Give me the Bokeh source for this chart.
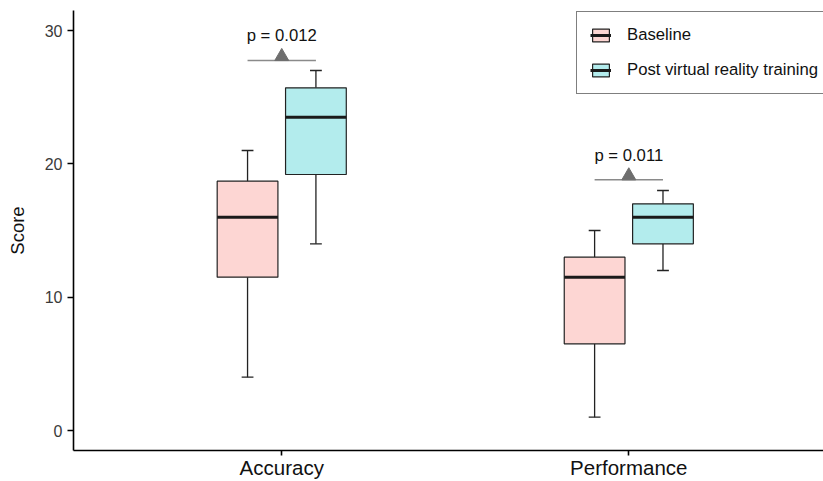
from bokeh.plotting import figure
from bokeh.models import Legend, LegendItem, FixedTicker, Range1d
from bokeh.core.properties import value
from bokeh.embed import file_html
from bokeh.resources import INLINE

# ---- data ----
categories = ["Accuracy", "Performance"]
groups = ["Baseline", "Post virtual reality training"]

baseline_low = [4.0, 1.0]
baseline_q1 = [11.5, 6.5]
baseline_med = [16.0, 11.5]
baseline_q3 = [18.7, 13.0]
baseline_high = [21.0, 15.0]

post_low = [14.0, 12.0]
post_q1 = [19.2, 14.0]
post_med = [23.5, 16.0]
post_q3 = [25.7, 17.0]
post_high = [27.0, 18.0]

p_labels = ["p = 0.012", "p = 0.011"]
p_line_y = [27.75, 18.8]
p_text_y = [29.6, 20.65]

# ---- style ----
FONT = "Liberation Sans"
DODGE = 0.0985
BOX_W = 0.175
CAP_W = 0.034
BASE_FILL = "#FDD6D3"
POST_FILL = "#B3ECED"
EDGE = "#222222"

cat_x = [i + 1 for i in range(len(categories))]
base_x = [c - DODGE for c in cat_x]
post_x = [c + DODGE for c in cat_x]

p = figure(width=823, height=481,
           x_range=Range1d(0.4, 2.561), y_range=Range1d(-1.5, 31.5),
           output_backend="svg", toolbar_location=None,
           min_border_left=73, min_border_right=0,
           min_border_top=10, min_border_bottom=30)
p.outline_line_color = None
p.grid.visible = False
p.background_fill_color = "white"


def draw_group(xs, low, q1, med, q3, high, fill):
    # whiskers
    p.segment(x0=xs, y0=q3, x1=xs, y1=high, line_color=EDGE, line_width=1.3)
    p.segment(x0=xs, y0=q1, x1=xs, y1=low, line_color=EDGE, line_width=1.3)
    # caps
    p.segment(x0=[x - CAP_W / 2 for x in xs], y0=high,
              x1=[x + CAP_W / 2 for x in xs], y1=high,
              line_color=EDGE, line_width=1.3)
    p.segment(x0=[x - CAP_W / 2 for x in xs], y0=low,
              x1=[x + CAP_W / 2 for x in xs], y1=low,
              line_color=EDGE, line_width=1.3)
    box = p.vbar(x=xs, width=BOX_W, top=q3, bottom=q1,
                 fill_color=fill, line_color=EDGE, line_width=1.2)
    med_r = p.segment(x0=[x - BOX_W / 2 for x in xs], y0=med,
                      x1=[x + BOX_W / 2 for x in xs], y1=med,
                      line_color="#1a1a1a", line_width=3)
    return box, med_r


box_b, med_b = draw_group(base_x, baseline_low, baseline_q1, baseline_med,
                          baseline_q3, baseline_high, BASE_FILL)
box_p, med_p = draw_group(post_x, post_low, post_q1, post_med,
                          post_q3, post_high, POST_FILL)

# p-value annotations
p.segment(x0=base_x, y0=p_line_y, x1=post_x, y1=p_line_y,
          line_color="#8a8a8a", line_width=1.5)
p.scatter(x=cat_x, y=[v + 0.3 for v in p_line_y], marker="triangle",
          size=14, fill_color="#6e6e6e", line_color="#6e6e6e")
p.text(x=cat_x, y=p_text_y, text=p_labels, text_font=value(FONT),
       text_font_size=value("16.7px"), text_align="center",
       text_baseline="middle", text_color="#111111")

# axes
p.xaxis.ticker = FixedTicker(ticks=cat_x)
p.xaxis.major_label_overrides = {c: name for c, name in zip(cat_x, categories)}
p.xaxis.major_label_text_font = FONT
p.xaxis.major_label_text_font_size = "20.5px"
p.xaxis.major_label_text_color = "#111111"
p.xaxis.major_label_standoff = 0
p.xaxis.minor_tick_line_color = None
p.xaxis.major_tick_in = 0
p.xaxis.major_tick_out = 5
p.xaxis.axis_line_width = 1.6
p.xaxis.major_tick_line_width = 1.6
p.xaxis.axis_line_color = "black"

p.yaxis.ticker = FixedTicker(ticks=[0, 10, 20, 30])
p.yaxis.major_label_text_font = FONT
p.yaxis.major_label_text_font_size = "16px"
p.yaxis.major_label_text_color = "#3a3a3a"
p.yaxis.major_label_standoff = 5
p.yaxis.minor_tick_line_color = None
p.yaxis.major_tick_in = 0
p.yaxis.major_tick_out = 6
p.yaxis.axis_line_width = 1.6
p.yaxis.major_tick_line_width = 1.6
p.yaxis.axis_line_color = "black"
p.yaxis.axis_label = "Score"
p.yaxis.axis_label_text_font = FONT
p.yaxis.axis_label_text_font_size = "18.5px"
p.yaxis.axis_label_text_font_style = "normal"
p.yaxis.axis_label_text_color = "#111111"
p.yaxis.axis_label_standoff = 14

legend = Legend(items=[
    LegendItem(label=groups[0], renderers=[box_b, med_b]),
    LegendItem(label=groups[1], renderers=[box_p, med_p]),
], location=(503, 356))
legend.border_line_color = "black"
legend.border_line_width = 1.5
legend.label_text_font = FONT
legend.label_text_font_size = "16.7px"
legend.label_text_color = "#111111"
legend.glyph_width = 21
legend.glyph_height = 16
legend.label_standoff = 16
legend.padding = 13
legend.spacing = 15
legend.margin = 0
p.add_layout(legend)

open("out.html", "w").write(file_html(p, INLINE))
